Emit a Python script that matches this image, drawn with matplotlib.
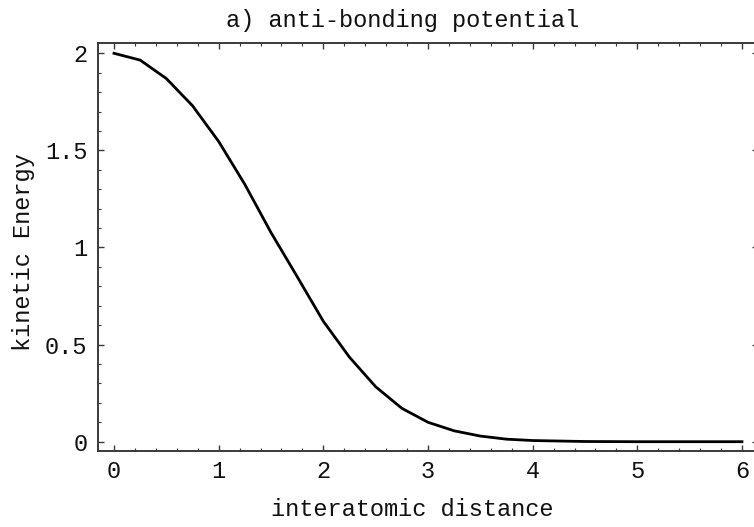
import matplotlib
matplotlib.use("Agg")
import matplotlib.pyplot as plt
from matplotlib.ticker import MultipleLocator

# data
distance = [0.0, 0.25, 0.5, 0.75, 1.0, 1.25, 1.5, 1.75, 2.0, 2.25, 2.5, 2.75,
            3.0, 3.25, 3.5, 3.75, 4.0, 4.5, 5.0, 5.5, 6.0]
energy = [2.0, 1.965, 1.87, 1.73, 1.546, 1.325, 1.077, 0.85, 0.62, 0.435, 0.283, 0.172,
          0.10, 0.056, 0.029, 0.013, 0.006, 0.001, 0.0, 0.0, 0.0]
xticks = [0, 1, 2, 3, 4, 5, 6]
xticklabels = ["0", "1", "2", "3", "4", "5", "6"]
yticks = [0, 0.5, 1, 1.5, 2]
yticklabels = ["0", "0.5", "1", "1.5", "2"]
title = "a) anti-bonding potential"
xlabel = "interatomic distance"
ylabel = "kinetic Energy"

plt.rcParams['font.family'] = ['Liberation Mono', 'DejaVu Sans Mono']
FS = 17
W, H = 754, 527
fig = plt.figure(figsize=(W / 100, H / 100), dpi=100)
left, right, top, bottom = 97.7, 757.5, 43.3, 451.3
ax = fig.add_axes([left / W, 1 - bottom / H, (right - left) / W, (bottom - top) / H])

ax.plot(distance, energy, color='black', lw=2.0, solid_joinstyle='round')

# x: 0 at px 114, 6 at px 742 ; y: 0 at px 441.7, 2 at px 53.3
sx = (742 - 114) / 6.0
sy = (441.7 - 53.3) / 2.0
ax.set_xlim((left - 114) / sx, (right - 114) / sx)
ax.set_ylim(-(bottom - 441.7) / sy, 2 + (53.3 - top) / sy)

ax.set_xticks(xticks)
ax.set_xticklabels(xticklabels)
ax.set_yticks(yticks)
ax.set_yticklabels(yticklabels)
ax.xaxis.set_minor_locator(MultipleLocator(0.2))
ax.yaxis.set_minor_locator(MultipleLocator(0.1))
spc = '#3a3a3a'
ax.tick_params(which='both', direction='in', top=True, right=True, color=spc,
               labelsize=FS, labelcolor='#111111')
ax.tick_params(which='major', length=4.2, width=1.0)
ax.tick_params(which='minor', length=2.0, width=0.8)
ax.tick_params(axis='x', which='major', pad=6.5)
ax.tick_params(axis='y', which='major', pad=7.5)
for s in ax.spines.values():
    s.set_color(spc)
    s.set_linewidth(1.4)

fig.text(403 / W, 1 - 26.5 / H, title, ha='center', va='baseline', fontsize=FS, color='#111111')
fig.text(412 / W, 1 - 516 / H, xlabel, ha='center', va='baseline', fontsize=FS, color='#111111')
fig.text(24 / W, 1 - 252 / H, ylabel, ha='center', va='center', rotation=90, fontsize=FS,
         color='#111111')

fig.savefig("out.png", dpi=100)
